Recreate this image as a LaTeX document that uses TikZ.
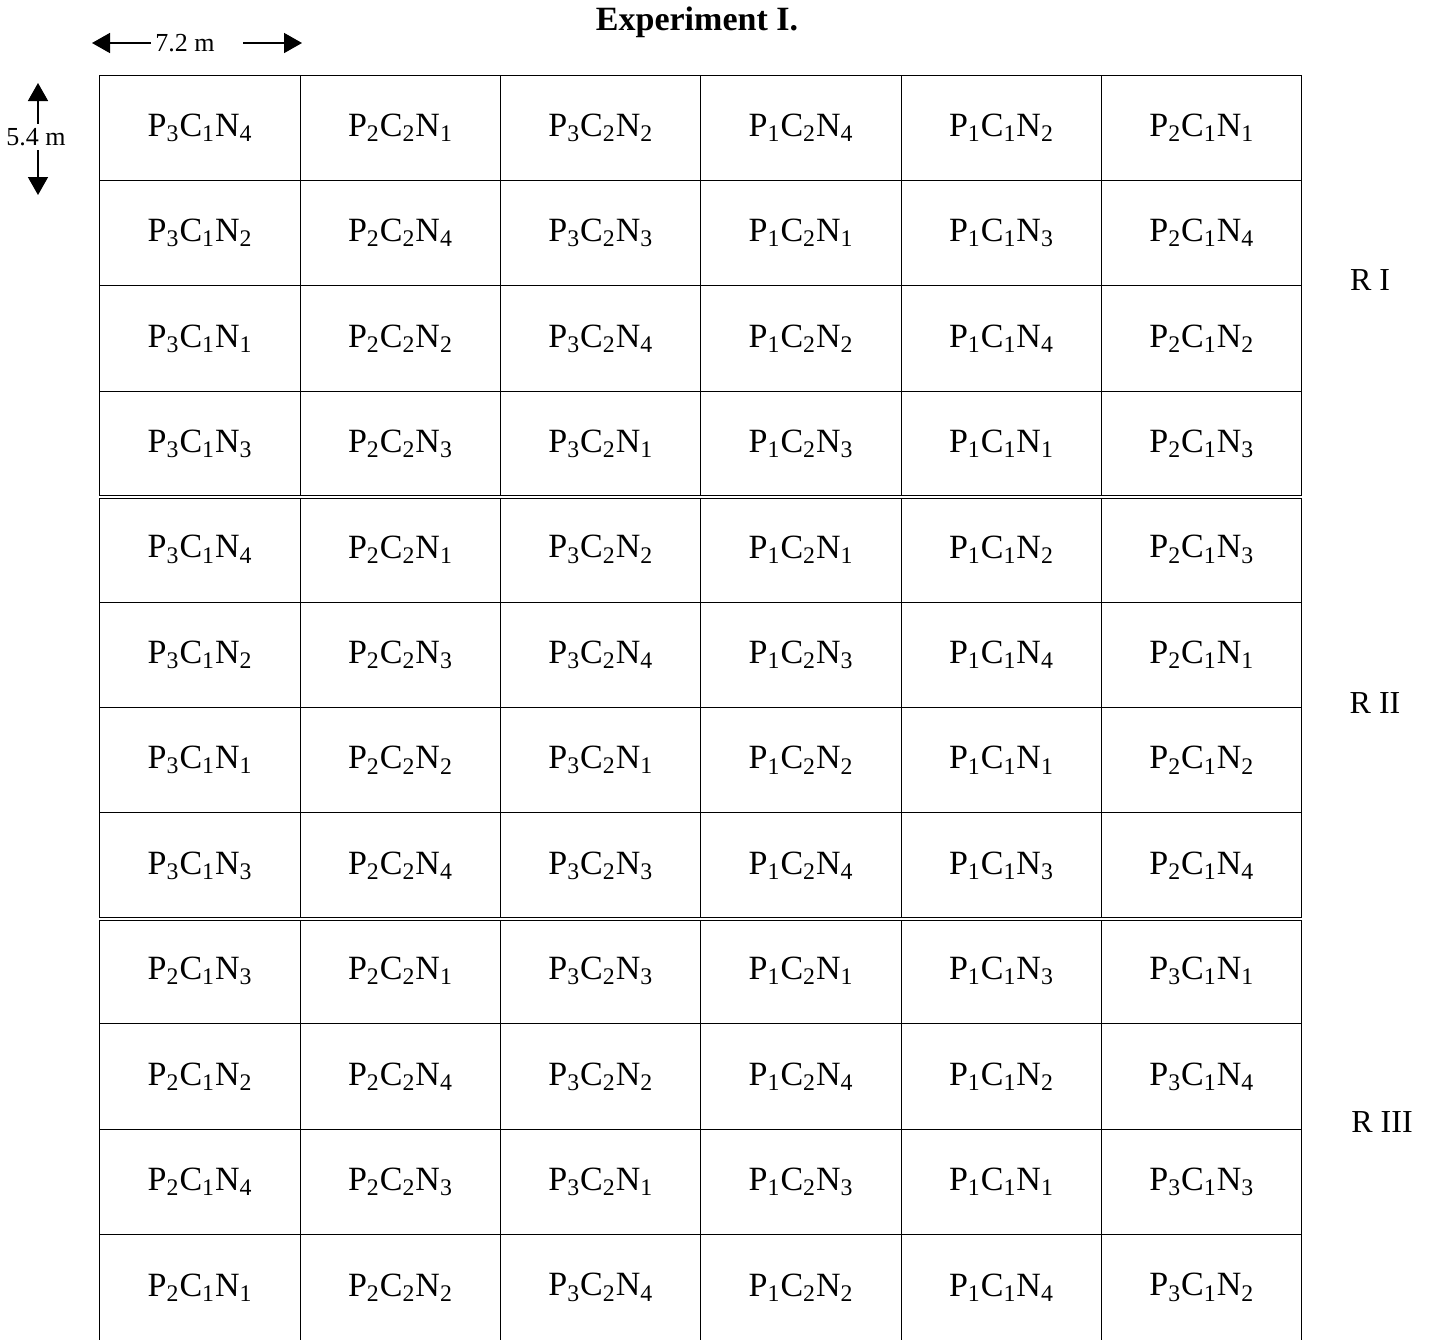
\documentclass[tikz,border=0pt]{standalone}
\usepackage{fontspec}
\setmainfont{Liberation Serif}
\usetikzlibrary{arrows.meta}
\newcommand{\trt}[3]{P\textsubscript{#1}C\textsubscript{#2}N\textsubscript{#3}}
\tikzset{
  plotcell/.style={draw, line width=0.5pt, minimum width=100.17pt, minimum height=52.71pt,
    inner sep=0pt, font=\fontsize{17}{18}\selectfont},
  repline/.style={double, double distance=1pt, line width=0.6pt},
  replabel/.style={font=\fontsize{16}{18}\selectfont},
  dimlabel/.style={font=\fontsize{13}{14}\selectfont, inner sep=2pt},
  dimarrow/.style={line width=0.8pt, -{Triangle[length=9pt,width=10pt]}}
}

\begin{document}
\begin{tikzpicture}[x=0.5pt,y=-0.5pt]
  \path[use as bounding box] (0,0) rectangle (1437,1340);
  \node[font=\bfseries\fontsize{17}{18}\selectfont] (title) at (697,22) {Experiment I.};
  % plot layout, one row of six plots per entry
  \foreach \row [count=\r] in {
    {3/1/4,2/2/1,3/2/2,1/2/4,1/1/2,2/1/1},
    {3/1/2,2/2/4,3/2/3,1/2/1,1/1/3,2/1/4},
    {3/1/1,2/2/2,3/2/4,1/2/2,1/1/4,2/1/2},
    {3/1/3,2/2/3,3/2/1,1/2/3,1/1/1,2/1/3},
    {3/1/4,2/2/1,3/2/2,1/2/1,1/1/2,2/1/3},
    {3/1/2,2/2/3,3/2/4,1/2/3,1/1/4,2/1/1},
    {3/1/1,2/2/2,3/2/1,1/2/2,1/1/1,2/1/2},
    {3/1/3,2/2/4,3/2/3,1/2/4,1/1/3,2/1/4},
    {2/1/3,2/2/1,3/2/3,1/2/1,1/1/3,3/1/1},
    {2/1/2,2/2/4,3/2/2,1/2/4,1/1/2,3/1/4},
    {2/1/4,2/2/3,3/2/1,1/2/3,1/1/1,3/1/3},
    {2/1/1,2/2/2,3/2/4,1/2/2,1/1/4,3/1/2}}{
    \foreach \p/\k/\n [count=\c] in \row {
      \node[plotcell] (p\r-\c) at ({100+200.33*(\c-0.5)},{75+105.42*(\r-0.5)}) {\trt{\p}{\k}{\n}};
    }
  }
  % replication borders
  \draw[repline] (p4-1.south west) -- (p4-6.south east);
  \draw[repline] (p8-1.south west) -- (p8-6.south east);
  \node[replabel] (rI) at (1370,280) {R I};
  \node[replabel] (rII) at (1375,703) {R II};
  \node[replabel] (rIII) at (1382,1122) {R III};
  % plot size
  \node[dimlabel] (wlab) at (185,43) {7.2 m};
  \coordinate (wl) at (92,43);
  \coordinate (wgap) at (243,43);
  \coordinate (wr) at (302,43);
  \draw[dimarrow] (wlab.west) -- (wl);
  \draw[dimarrow] (wgap) -- (wr);
  \node[dimlabel] (hlab) at (36,137) {5.4 m};
  \coordinate (ht) at (38,83);
  \coordinate (hb) at (38,195);
  \draw[dimarrow] (hlab.north -| ht) -- (ht);
  \draw[dimarrow] (hlab.south -| hb) -- (hb);
\end{tikzpicture}
\end{document}
